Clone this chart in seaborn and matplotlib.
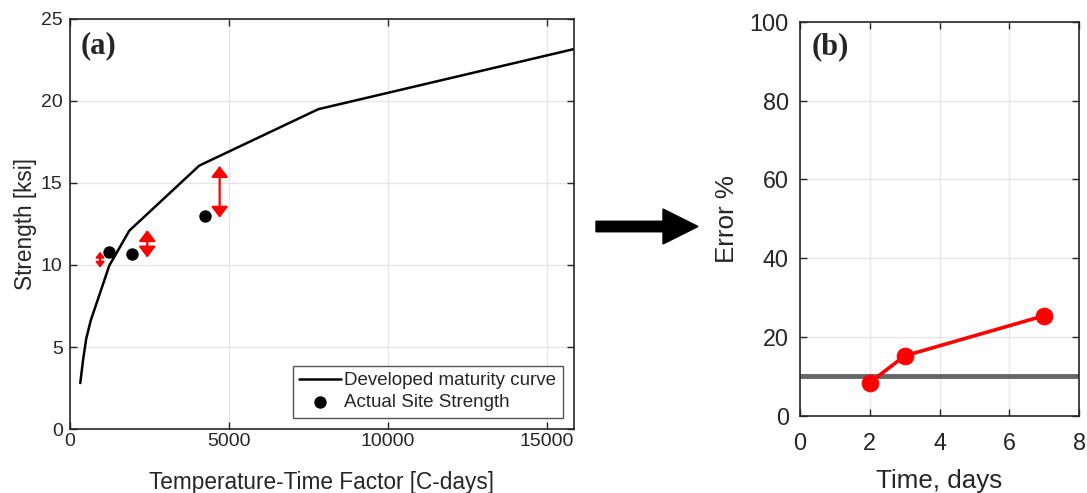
import matplotlib
matplotlib.use("Agg")
import matplotlib.pyplot as plt
from matplotlib.patches import FancyArrow
import seaborn as sns
import pandas as pd

# Developed maturity curve: strength vs temperature-time factor
curve_ttf = [333, 420, 520, 660, 1245, 1875, 4076, 7820, 15870]
curve_strength = [2.8, 4.2, 5.5, 6.6, 9.96, 12.09, 16.06, 19.5, 23.17]

# Strength measured on site
site_ttf = [1245, 1969, 4264]
site_strength = [10.77, 10.65, 13.0]

# Gap markers between curve and site strength
gap_x = [956, 2440, 4717]
gap_low = [9.84, 10.45, 12.88]
gap_high = [10.81, 12.13, 16.04]

# Prediction error over time
days = [2, 3, 7]
error_pct = [8.4, 15.2, 25.4]
error_limit = 10

sns.set_theme(style="whitegrid")
plt.rcParams["font.family"] = ["Liberation Sans", "DejaVu Sans"]

INK = "#262626"
GRID = "#e6e6e6"
HEAD_STYLES = [(0.2, 0.25), (0.42, 0.55), (0.42, 0.55)]

fig = plt.figure(figsize=(10.87, 4.93), dpi=100)
fig.patch.set_facecolor("white")
ax1 = fig.add_axes([0.0641, 0.1298, 0.4642, 0.8317])
ax2 = fig.add_axes([0.736, 0.1568, 0.2567, 0.7986])

for ax in (ax1, ax2):
    ax.set_facecolor("white")
    ax.grid(True, color=GRID, linewidth=1.0)
    for s in ax.spines.values():
        s.set_visible(True)
        s.set_color(INK)
        s.set_linewidth(1.2)
    ax.set_axisbelow(True)

# ---- panel (a) ----
curve_df = pd.DataFrame({"ttf": curve_ttf, "strength": curve_strength})
site_df = pd.DataFrame({"ttf": site_ttf, "strength": site_strength})
sns.lineplot(data=curve_df, x="ttf", y="strength", ax=ax1, color="black",
             linewidth=1.8, sort=False, label="Developed maturity curve")
sns.scatterplot(data=site_df, x="ttf", y="strength", ax=ax1, color="black",
                s=80, edgecolor="black", linewidth=0, label="Actual Site Strength",
                zorder=5)
for x, lo, hi, (hw, hl) in zip(gap_x, gap_low, gap_high, HEAD_STYLES):
    ax1.annotate("", xy=(x, hi), xytext=(x, lo),
                 arrowprops=dict(arrowstyle=f"<|-|>,head_width={hw},head_length={hl}",
                                 color="red", lw=1.6, shrinkA=0, shrinkB=0))

ax1.set_xlim(0, curve_ttf[-1])
ax1.set_ylim(0, 25)
ax1.set_xticks([0, 5000, 10000, 15000])
ax1.set_yticks([0, 5, 10, 15, 20, 25])
ax1.tick_params(direction="in", length=5, width=1.0, color=INK, labelcolor=INK,
                labelsize=14, top=True, right=True, bottom=True, left=True)
ax1.tick_params(axis="x", pad=3)
ax1.tick_params(axis="y", pad=5)
ax1.set_xlabel("Temperature-Time Factor [C-days]", fontsize=16.3, color=INK, labelpad=15)
ax1.set_ylabel("Strength [ksi]", fontsize=16.3, color=INK, labelpad=3)
leg = ax1.legend(loc="lower right", fontsize=13.5, frameon=True, fancybox=False,
                 edgecolor="#555555", framealpha=1, borderpad=0.35,
                 labelspacing=0.25, handlelength=2.2, handletextpad=0.2,
                 borderaxespad=0.6)
leg.get_frame().set_linewidth(1.0)
ax1.text(0.022, 0.97, "(a)", transform=ax1.transAxes, ha="left", va="top",
         fontsize=22, fontweight="bold", family="Liberation Serif", color=INK)

# ---- panel (b) ----
err_df = pd.DataFrame({"days": days, "error": error_pct})
ax2.axhline(error_limit, color="#666666", linewidth=3.5, zorder=2)
sns.lineplot(data=err_df, x="days", y="error", ax=ax2, color="red",
             linewidth=2.6, marker="o", markersize=12, markeredgecolor="red",
             zorder=3)
ax2.set_xlim(0, 8)
ax2.set_ylim(0, 100)
ax2.set_xticks([0, 2, 4, 6, 8])
ax2.set_yticks([0, 20, 40, 60, 80, 100])
ax2.tick_params(direction="in", length=5, width=1.0, color=INK, labelcolor=INK,
                labelsize=16.8, top=True, right=True, bottom=True, left=True)
ax2.tick_params(axis="x", pad=12)
ax2.tick_params(axis="y", pad=8)
ax2.set_xlabel("Time, days", fontsize=18.7, color=INK, labelpad=10)
ax2.set_ylabel("Error %", fontsize=18.7, color=INK, labelpad=8)
ax2.text(0.04, 0.975, "(b)", transform=ax2.transAxes, ha="left", va="top",
         fontsize=22, fontweight="bold", family="Liberation Serif", color=INK)

# Block arrow linking the two panels (in inches)
fig.add_artist(FancyArrow(5.96, 2.665, 1.02, 0.0, width=0.105, head_width=0.35,
                          head_length=0.35, length_includes_head=True,
                          color="black", transform=fig.dpi_scale_trans))

fig.savefig("out.png", dpi=100, facecolor="white")
